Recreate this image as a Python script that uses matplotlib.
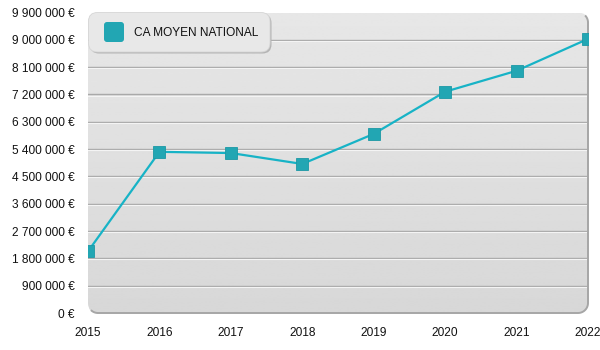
import matplotlib
matplotlib.use("Agg")
import matplotlib.pyplot as plt
import numpy as np
from matplotlib.patches import FancyBboxPatch, PathPatch
from matplotlib.path import Path
from matplotlib.transforms import Affine2D
from matplotlib.ticker import FuncFormatter

years = [2015, 2016, 2017, 2018, 2019, 2020, 2021, 2022]
values = [2030000, 5310000, 5270000, 4910000, 5900000, 7290000, 7980000, 9030000]
yticks = [0, 900000, 1800000, 2700000, 3600000, 4500000, 5400000, 6300000, 7200000, 8100000, 9000000, 9900000]
series_name = "CA MOYEN NATIONAL"

plt.rcParams['font.family'] = ['Liberation Sans', 'DejaVu Sans']

W, H = 600, 350
fig = plt.figure(figsize=(6, 3.5), dpi=100)
AX_L, AX_R, AX_T, AX_B = 88, 588, 12.5, 313
aw, ah = AX_R - AX_L, AX_B - AX_T
ax = fig.add_axes([AX_L / W, (H - AX_B) / H, aw / W, ah / H])
ax.set_xlim(2015, 2022)
ax.set_ylim(0, 9900000)

for s in ax.spines.values():
    s.set_visible(False)
ax.set_facecolor('none')

px = Affine2D().scale(1 / aw, 1 / ah) + ax.transAxes
R = 10

# rounded background with gradient
bg = FancyBboxPatch((0, 0), aw, ah, boxstyle=f"round,pad=0,rounding_size={R}",
                    transform=px, facecolor='none', edgecolor='none')
ax.add_patch(bg)
grad = np.linspace(0.845, 0.905, 256).reshape(-1, 1)
im = ax.imshow(grad, extent=[2015, 2022, 0, 9900000], aspect='auto', cmap='gray',
               vmin=0, vmax=1, origin='lower', zorder=0)
im.set_clip_path(bg)


def arc(cx, cy, r, t1, t2, n=20):
    t = np.radians(np.linspace(t1, t2, n))
    return np.column_stack([cx + r * np.cos(t), cy + r * np.sin(t)])


# right + bottom border with rounded corners
pts = np.vstack([
    arc(aw - R, ah - R, R, 45, 0),
    arc(aw - R, R, R, 0, -90),
    arc(R, R, R, -90, -135),
])
border = PathPatch(Path(pts), transform=px, facecolor='none', edgecolor='#a6a6a6',
                   lw=1.4, zorder=2, clip_on=False)
ax.add_patch(border)

# gridlines
for t in yticks[1:-1]:
    ax.axhline(t, color='#a9a9a9', lw=1.0, zorder=1)
    ax.axhline(t - 35000, color='#f4f4f4', lw=0.8, zorder=1)

ax.plot(years, values, color='#17b3c6', lw=1.6, zorder=3, clip_on=True)
ax.plot(years, values, ls='none', marker='s', markersize=9, markerfacecolor='#22a6b3',
        markeredgecolor='#1b98a5', markeredgewidth=0.6, zorder=4, clip_on=True)

ax.set_yticks(yticks)
ax.yaxis.set_major_formatter(FuncFormatter(lambda v, p: (f"{int(v):,}".replace(",", " ") + " €")))
ax.set_xticks(years)
ax.set_xticklabels([str(y) for y in years])
ax.tick_params(axis='both', length=0, labelsize=8.6, colors='#111111')
ax.tick_params(axis='y', pad=9.5)
ax.tick_params(axis='x', pad=10)

# legend box (pixel coords of the figure, origin top-left)
figpx = Affine2D().scale(1 / W, -1 / H).translate(0, 1) + fig.transFigure
LX0, LY0, LX1, LY1 = 88.5, 12.5, 270, 52
shadow = FancyBboxPatch((LX0 + 1.5, LY0 + 1.5), LX1 - LX0, LY1 - LY0,
                        boxstyle="round,pad=0,rounding_size=9", transform=figpx,
                        facecolor='#b4b4b4', edgecolor='none', zorder=5)
box = FancyBboxPatch((LX0, LY0), LX1 - LX0, LY1 - LY0,
                     boxstyle="round,pad=0,rounding_size=9", transform=figpx,
                     facecolor='#e8e8e8', edgecolor='#d6d6d6', lw=0.6, zorder=6)
swatch = FancyBboxPatch((104, 22), 20, 20, boxstyle="round,pad=0,rounding_size=3",
                        transform=figpx, facecolor='#22a6b3', edgecolor='none', zorder=7)
for p in (shadow, box, swatch):
    fig.add_artist(p)
fig.text(134 / W, 1 - 32.5 / H, series_name, fontsize=8.6, color='#111111',
         va='center', ha='left', zorder=8)

fig.savefig("out.png", dpi=100)
